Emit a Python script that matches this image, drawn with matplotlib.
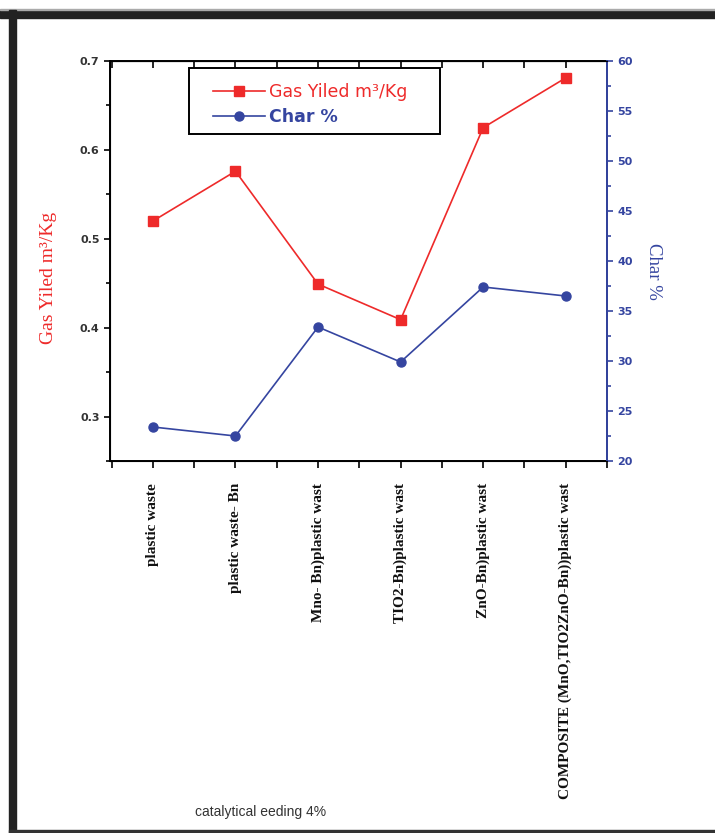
import matplotlib
matplotlib.use('Agg')
import matplotlib.pyplot as plt
from matplotlib.ticker import MultipleLocator
from matplotlib.lines import Line2D
from matplotlib.patches import Rectangle

# data
categories = [
    "plastic waste",
    "plastic waste- Bn",
    "Mno- Bn)plastic wast",
    "TIO2-Bn)plastic wast",
    "ZnO-Bn)plastic wast",
    "COMPOSITE (MnO,TIO2ZnO-Bn))plastic wast",
]
gas_yield = [0.52, 0.576, 0.449, 0.409, 0.625, 0.681]
char_pct = [23.4, 22.5, 33.4, 29.9, 37.4, 36.5]

RED = '#ee2a2a'
BLUE = '#3545a0'
GRAY = '#333333'

fig = plt.figure(figsize=(7.15, 8.33), dpi=100)
ax = fig.add_axes([110/715, 1-461/833, 497/715, 400/833])

x = list(range(len(categories)))
ax.plot(x, gas_yield, color=RED, lw=1.2, marker='s', ms=6.5, zorder=3)
ax.set_xlim(-0.52, 5.5)
ax.set_ylim(0.25, 0.7)
ax.yaxis.set_major_locator(MultipleLocator(0.1))
ax.yaxis.set_minor_locator(MultipleLocator(0.05))
ax.set_xticks(x)
ax.xaxis.set_minor_locator(MultipleLocator(0.5))
ax.set_xticklabels(categories, rotation=90, family='Liberation Serif',
                   fontweight='bold', fontsize=11, color='#111111')
ax.tick_params(axis='x', which='both', direction='out', length=5, width=1.2,
               top=False, pad=11)
ax.tick_params(axis='y', which='major', direction='out', length=4, width=1.2,
               labelsize=8, labelcolor=GRAY)
ax.tick_params(axis='y', which='minor', direction='out', length=3, width=1.2)
for lab in ax.get_yticklabels():
    lab.set_fontweight('bold')
for s in ax.spines.values():
    s.set_linewidth(1.4)
ax.set_ylabel('Gas Yiled m³/Kg', family='Liberation Serif', fontsize=14,
              color=RED)
ax.yaxis.set_label_coords(-0.107, 0.4575)

# top ticks point inward
top = ax.secondary_xaxis('top')
top.set_xticks(x)
top.xaxis.set_minor_locator(MultipleLocator(0.5))
top.tick_params(which='both', direction='in', length=5, width=1.2,
                labeltop=False)

ax2 = ax.twinx()
ax2.plot(x, char_pct, color=BLUE, lw=1.2, marker='o', ms=6.5, zorder=3)
ax2.set_ylim(20, 60)
ax2.yaxis.set_major_locator(MultipleLocator(5))
ax2.yaxis.set_minor_locator(MultipleLocator(2.5))
ax2.spines['right'].set_color(BLUE)
ax2.spines['right'].set_linewidth(1.4)
ax2.tick_params(axis='y', which='major', colors=BLUE, direction='out',
                length=4, width=1.2, labelsize=8)
ax2.tick_params(axis='y', which='minor', colors=BLUE, direction='out',
                length=3, width=1.2)
for lab in ax2.get_yticklabels():
    lab.set_fontweight('bold')
ax2.set_ylabel('Char %', family='Liberation Serif', fontsize=13.5,
               color=BLUE, rotation=-90)
ax2.yaxis.set_label_coords(1.111, 0.475)

# legend without its own frame; the box is drawn separately so it can be wide
handles = [
    Line2D([], [], color=RED, lw=1.2, marker='s', ms=6.5),
    Line2D([], [], color=BLUE, lw=1.2, marker='o', ms=6.5),
]
leg = ax2.legend(handles, ['Gas Yiled m³/Kg', 'Char %'], loc='upper left',
                 bbox_to_anchor=(103/497, (461-83)/400), borderaxespad=0,
                 borderpad=0, frameon=False, handlelength=3.0,
                 handletextpad=0.25, labelspacing=0.4,
                 prop={'family': 'DejaVu Sans', 'size': 12.5})
leg.get_texts()[0].set_color(RED)
leg.get_texts()[1].set_color(BLUE)
leg.get_texts()[1].set_fontweight('bold')
ax2.add_patch(Rectangle((79/497, (461-134)/400), 251/497, 66/400,
                        transform=ax2.transAxes, fill=False, lw=1.4,
                        edgecolor='black', zorder=5))

fig.text(261/715, 1-812/833, 'catalytical eeding 4%', ha='center',
         va='center', family='Liberation Sans', fontsize=10, color=GRAY)

# dark page frame around the figure
fig.patches.append(Rectangle((0, 1-18/833), 1, 8/833, transform=fig.transFigure,
                             color='#222222', zorder=0))
fig.patches.append(Rectangle((0, 1-10/833), 1, 1/833, transform=fig.transFigure,
                             color='#aaaaaa', zorder=0))
fig.patches.append(Rectangle((9/715, 0), 7/715, 1-10/833, transform=fig.transFigure,
                             color='#222222', zorder=0))
fig.patches.append(Rectangle((9/715, 0), 1, 3/833, transform=fig.transFigure,
                             color='#333333', zorder=0))

fig.savefig('out.png', dpi=100)
